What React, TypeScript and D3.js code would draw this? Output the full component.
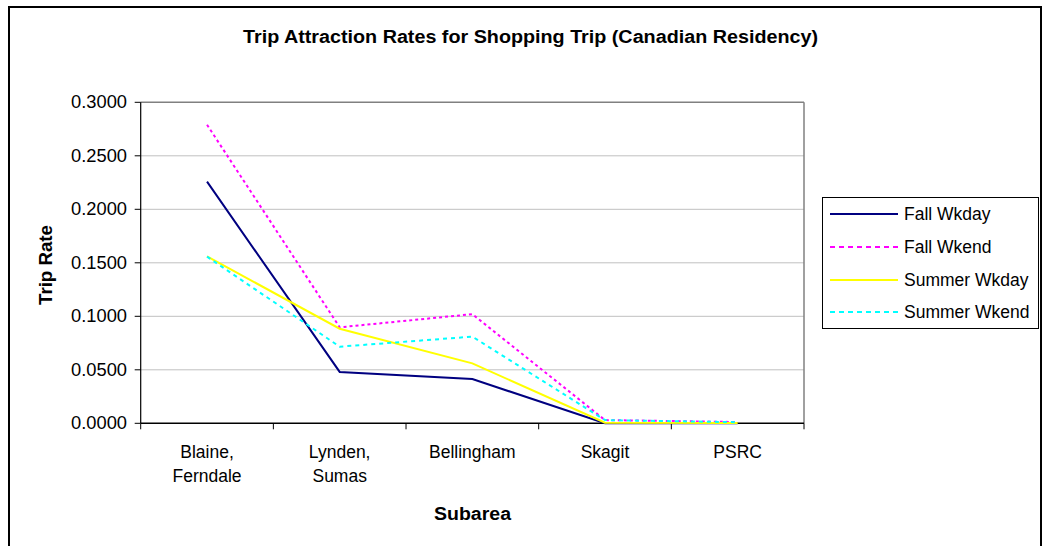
import React from "react";
import * as d3 from "d3";

const categories: string[][] = [["Blaine,", "Ferndale"], ["Lynden,", "Sumas"], ["Bellingham"], ["Skagit"], ["PSRC"]];
const seriesNames = ["Fall Wkday", "Fall Wkend", "Summer Wkday", "Summer Wkend"];
const fallWkday = [0.2258, 0.048, 0.0414, 0.0, 0.0];
const fallWkend = [0.279, 0.0897, 0.102, 0.003, 0.0012];
const summerWkday = [0.156, 0.0884, 0.056, 0.0005, 0.0002];
const summerWkend = [0.1558, 0.0716, 0.081, 0.003, 0.001];
const yTicks = [0, 0.05, 0.1, 0.15, 0.2, 0.25, 0.3];

const seriesStyles = [
  { color: "#000080", dash: "" },
  { color: "#FF00FF", dash: "3,3" },
  { color: "#FFFF00", dash: "" },
  { color: "#00FFFF", dash: "4,4" },
];

export default function App() {
  const W = 1047, H = 546;
  const left = 140.7, right = 804, top = 102.3, bottom = 423.3;
  const font = "'Liberation Sans', Arial, sans-serif";
  const x = d3.scaleBand<number>().domain(d3.range(categories.length)).range([left, right]).padding(0);
  const y = d3.scaleLinear().domain([0, 0.3]).range([bottom, top]);
  const allSeries = [fallWkday, fallWkend, summerWkday, summerWkend];
  const line = d3.line<number>().x((_, i) => (x(i) as number) + x.bandwidth() / 2).y((d) => y(d));
  const bounds = d3.range(categories.length + 1).map((i) => left + i * x.bandwidth());
  const fs = 17.5;
  const legendRows = [214, 247, 280, 312];

  return (
    <svg width={W} height={H} style={{ position: "absolute", left: 0, top: 0 }} fontFamily={font}>
      <rect x={0} y={0} width={W} height={H} fill="#fff" />
      <rect x={9} y={7} width={1032} height={560} fill="none" stroke="#000" strokeWidth={2} />
      <text x={530.5} y={43} textAnchor="middle" fontWeight="bold" fontSize={18} textLength={575} lengthAdjust="spacingAndGlyphs">
        Trip Attraction Rates for Shopping Trip (Canadian Residency)
      </text>
      {/* gridlines */}
      {yTicks.filter((t) => t > 0).map((t) => (
        <line key={t} x1={left} x2={right} y1={y(t)} y2={y(t)} stroke={t === 0.3 ? "#808080" : "#C0C0C0"} strokeWidth={t === 0.3 ? 1.5 : 1} />
      ))}
      <line x1={right} x2={right} y1={top} y2={bottom} stroke="#808080" strokeWidth={1.5} />
      {/* y axis */}
      <line x1={left} x2={left} y1={top} y2={bottom} stroke="#000" strokeWidth={1.2} />
      {yTicks.map((t) => (
        <g key={t}>
          <line x1={left - 6} x2={left} y1={y(t)} y2={y(t)} stroke="#000" strokeWidth={1} />
          <text x={127} y={y(t) + 6} textAnchor="end" fontSize={fs} textLength={56} lengthAdjust="spacingAndGlyphs">{d3.format(".4f")(t)}</text>
        </g>
      ))}
      {/* x axis */}
      <line x1={left} x2={right} y1={bottom} y2={bottom} stroke="#000" strokeWidth={1.5} />
      {bounds.map((b, i) => (
        <line key={i} x1={b} x2={b} y1={bottom} y2={bottom + 6} stroke="#000" strokeWidth={1} />
      ))}
      {categories.map((c, i) => (
        <text key={i} textAnchor="middle" fontSize={fs}>
          {c.map((ln, j) => (
            <tspan key={j} x={(x(i) as number) + x.bandwidth() / 2} y={458 + j * 24}>{ln}</tspan>
          ))}
        </text>
      ))}
      <text x={472.5} y={520} textAnchor="middle" fontWeight="bold" fontSize={18} textLength={77} lengthAdjust="spacingAndGlyphs">Subarea</text>
      <text transform="translate(52,265) rotate(-90)" textAnchor="middle" fontWeight="bold" fontSize={18} textLength={80} lengthAdjust="spacingAndGlyphs">Trip Rate</text>
      {/* series */}
      {allSeries.map((s, i) => (
        <path key={i} d={line(s) || ""} fill="none" stroke={seriesStyles[i].color} strokeWidth={2} strokeDasharray={seriesStyles[i].dash} />
      ))}
      {/* legend */}
      <rect x={822.5} y={197.5} width={216} height={131} fill="#fff" stroke="#000" strokeWidth={1} />
      {seriesNames.map((n, i) => (
        <g key={n}>
          <line x1={830} x2={898} y1={legendRows[i]} y2={legendRows[i]} stroke={seriesStyles[i].color} strokeWidth={2} strokeDasharray={seriesStyles[i].dash ? "5,4" : ""} />
          <text x={904} y={legendRows[i] + 6} fontSize={fs}>{n}</text>
        </g>
      ))}
    </svg>
  );
}
